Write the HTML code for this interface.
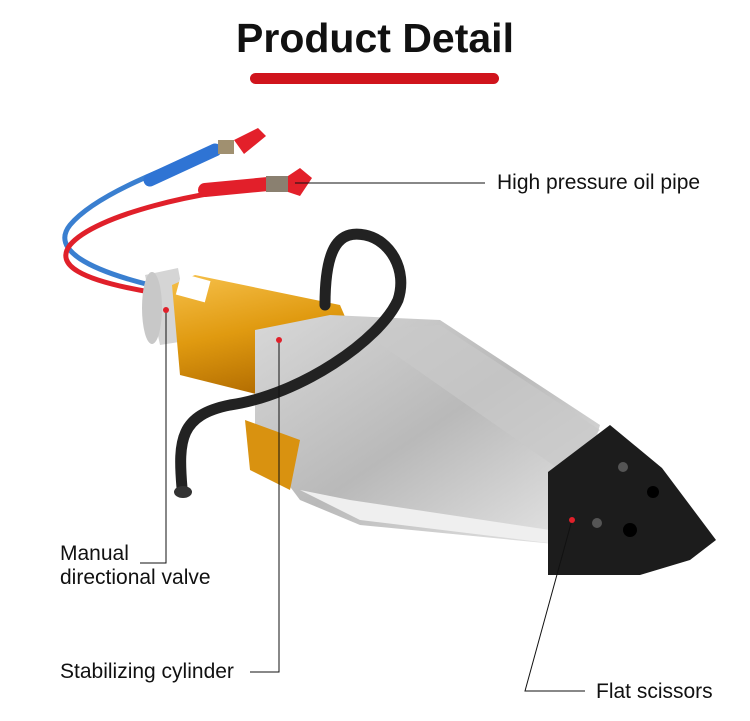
<!DOCTYPE html>
<html><head><meta charset="utf-8"><style>
body{margin:0;width:750px;height:721px;background:#fff;position:relative;overflow:hidden;font-family:"Liberation Sans",sans-serif}
.t{position:absolute;color:#111;font-size:21px}
</style></head><body>
<div style="position:absolute;left:0;width:750px;top:15px;text-align:center;font-weight:bold;font-size:41px;color:#111">Product Detail</div>
<div style="position:absolute;left:250px;top:73px;width:249px;height:11px;border-radius:6px;background:#d0141c"></div>
<svg width="750" height="721" style="position:absolute;left:0;top:0">
<defs>
<linearGradient id="g" x1="0" y1="0" x2="0.3" y2="1"><stop offset="0" stop-color="#f6c04a"/><stop offset="0.5" stop-color="#e09a10"/><stop offset="1" stop-color="#b06a00"/></linearGradient>
<linearGradient id="s" x1="0" y1="0" x2="1" y2="1"><stop offset="0" stop-color="#d8d8d8"/><stop offset="0.5" stop-color="#b9b9b9"/><stop offset="1" stop-color="#e8e8e8"/></linearGradient>
</defs>
<path d="M150,285 C90,270 50,250 70,225 C95,195 170,165 220,150" fill="none" stroke="#3a7fd0" stroke-width="5"/>
<path d="M150,292 C80,280 55,265 70,245 C95,215 200,190 280,185" fill="none" stroke="#e0202a" stroke-width="5"/>
<path d="M150,180 L215,150" stroke="#2f74d4" stroke-width="13" stroke-linecap="round"/>
<path d="M205,190 L268,184" stroke="#e21f2a" stroke-width="14" stroke-linecap="round"/>
<rect x="218" y="140" width="16" height="14" fill="#a09070"/>
<rect x="266" y="176" width="22" height="16" fill="#8a8070"/>
<path d="M234,140 L258,128 L266,136 L244,154 Z" fill="#e3202a"/>
<path d="M288,176 L300,168 L312,178 L300,196 L288,192 Z" fill="#e3202a"/>
<path d="M145,275 L178,268 L192,340 L160,345 Z" fill="#d5d5d5"/>
<ellipse cx="152" cy="308" rx="10" ry="36" fill="#c8c8c8"/>
<path d="M172,285 L195,275 L340,305 L355,340 L335,395 L300,405 L180,375 Z" fill="url(#g)"/>
<rect x="178" y="276" width="30" height="22" fill="#fff" transform="rotate(15 190 288)"/>
<path d="M255,330 L330,315 L440,320 L600,425 L565,545 L360,525 L300,500 L255,440 Z" fill="url(#s)"/>
<path d="M360,330 L440,325 L600,430 L560,470 Z" fill="#c9c9c9" opacity=".7"/>
<path d="M300,490 L360,520 L565,545 L550,530 L350,500 Z" fill="#efefef"/>
<path d="M245,420 L300,440 L290,490 L250,470 Z" fill="#d99210"/>
<path d="M548,472 L610,425 L662,468 L716,540 L690,560 L640,575 L548,575 Z" fill="#1c1c1c"/>
<circle cx="623" cy="467" r="5" fill="#555"/><circle cx="597" cy="523" r="5" fill="#555"/>
<circle cx="653" cy="492" r="6" fill="#000"/><circle cx="630" cy="530" r="7" fill="#000"/>
<path d="M182,488 C178,440 180,415 230,405 C300,395 380,340 398,300 C408,270 390,240 365,235 C340,230 325,245 325,305" fill="none" stroke="#222" stroke-width="11" stroke-linecap="round"/>
<ellipse cx="183" cy="492" rx="9" ry="6" fill="#333"/>
<g stroke="#111" stroke-width="1" fill="none">
<path d="M292,183 L485,183"/>
<path d="M166,310 L166,563 L140,563"/>
<path d="M279,340 L279,672 L250,672"/>
<path d="M572,520 L525,691 L585,691"/>
</g>
<g fill="#e0202a"><circle cx="292" cy="183" r="3"/><circle cx="166" cy="310" r="3"/><circle cx="279" cy="340" r="3"/><circle cx="572" cy="520" r="3"/></g>
</svg>
<div class="t" style="left:497px;top:171px">High pressure oil pipe</div>
<div class="t" style="left:60px;top:542px;line-height:24px">Manual<br>directional valve</div>
<div class="t" style="left:60px;top:660px">Stabilizing cylinder</div>
<div class="t" style="left:596px;top:680px">Flat scissors</div>
</body></html>
